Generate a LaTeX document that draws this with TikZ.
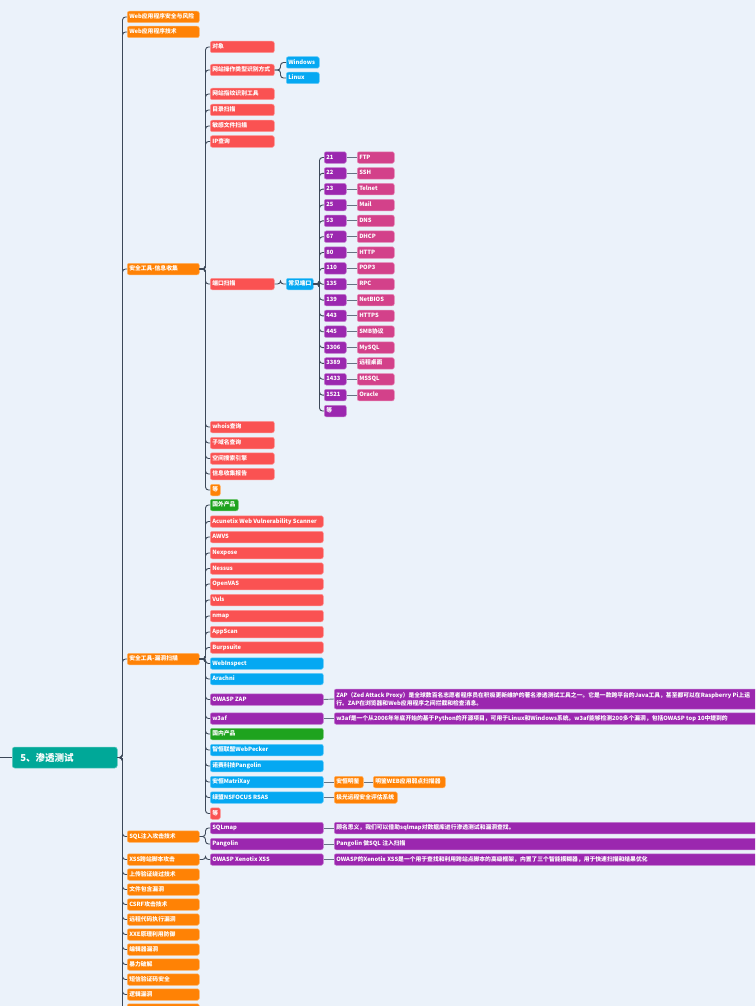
\documentclass[tikz,border=0pt]{standalone}
\usepackage{fontspec}
\setmainfont{Noto Sans CJK SC}
\definecolor{bg}{HTML}{EBF2FA}
\definecolor{cor}{HTML}{FF8205}
\definecolor{cred}{HTML}{FA5252}
\definecolor{cblu}{HTML}{05A8F2}
\definecolor{cpur}{HTML}{9B27AF}
\definecolor{cpnk}{HTML}{D3418A}
\definecolor{cgrn}{HTML}{1EA31E}
\definecolor{cteal}{HTML}{00A898}
\definecolor{cln}{HTML}{3C4858}
\definecolor{cln2}{HTML}{667384}
\tikzset{
  bx/.style={rectangle, rounded corners=2pt, inner xsep=2pt, inner ysep=0pt,
    minimum height=11.5pt, text=white, font=\fontsize{5.8}{7}\selectfont\bfseries,
    anchor=west, text height=4.4pt, text depth=1.3pt, line width=0.5pt},
  bxtwo/.style={rectangle, rounded corners=2pt, inner xsep=2pt, inner ysep=1pt,
    minimum height=20pt, text=white, font=\fontsize{5.8}{8.5}\selectfont\bfseries,
    anchor=west, line width=0.5pt, align=left},
  rootbox/.style={rectangle, rounded corners=2.5pt, inner xsep=8pt, inner ysep=0pt,
    minimum height=21pt, text=white, font=\fontsize{9.5}{11}\selectfont\bfseries,
    anchor=west, fill=cteal, draw=cteal!60!white, line width=0.5pt},
  conn/.style={draw=cln, line width=0.9pt, rounded corners=3pt},
  link/.style={draw=cln2, line width=0.9pt},
}
\newcommand\B[6]{\pgfmathsetmacro\tw{#4-#3-4}\pgfmathsetmacro\bw{#4-#3}%
  \node[bx, fill=#2, draw=#2!60!white, minimum width=\bw pt] (#1) at (#3,#5) {\makebox[\tw pt][l]{#6}};}
\newcommand\E[3]{\draw[conn] (#1.east) -- ++(#3,0) |- (#2.west);}
\newcommand\LK[2]{\draw[link] (#1.east) -- (#2.west);}
\begin{document}
\begin{tikzpicture}[x=1pt,y=-1pt]
\fill[bg] (0,0) rectangle (755,1006);
\useasboundingbox (0,0) rectangle (755,1006);
\clip (0,0) rectangle (755,1006);

% root
\node[rootbox, minimum width=105pt] (root) at (12,757.5) {\makebox[89pt][l]{5、渗透测试}};
\coordinate (rootin) at (-5,757.5);
\draw[conn] (rootin) -- (root.west);

% level 1
\B{a1}{cor}{127}{199}{17}{Web应用程序安全与风险}
\B{a2}{cor}{127}{199}{32}{Web应用程序技术}
\B{a3}{cor}{127}{199}{269}{安全工具-信息收集}
\B{a4}{cor}{127}{199}{659}{安全工具-漏洞扫描}
\B{a5}{cor}{127}{199}{836.5}{SQL注入攻击技术}
\B{a6}{cor}{127}{199}{859.5}{XSS跨站脚本攻击}
\B{a7}{cor}{127}{199}{874.5}{上传验证绕过技术}
\B{a8}{cor}{127}{199}{889.5}{文件包含漏洞}
\B{a9}{cor}{127}{199}{904.5}{CSRF攻击技术}
\B{a10}{cor}{127}{199}{919.5}{远程代码执行漏洞}
\B{a11}{cor}{127}{199}{934.5}{XXE原理利用防御}
\B{a12}{cor}{127}{199}{949.5}{编辑器漏洞}
\B{a13}{cor}{127}{199}{964.5}{暴力破解}
\B{a14}{cor}{127}{199}{979.5}{短信验证码安全}
\B{a15}{cor}{127}{199}{994.5}{逻辑漏洞}
\B{a16}{cor}{127}{199}{1009.5}{}
\foreach \n in {a1,a2,a3,a4,a5,a6,a7,a8,a9,a10,a11,a12,a13,a14,a15,a16}{\E{root}{\n}{5}}

% info collection
\B{b1}{cred}{210}{274}{47}{对象}
\B{b2}{cred}{210}{274}{70}{网站操作类型识别方式}
\B{b3}{cred}{210}{274}{94}{网站指纹识别工具}
\B{b4}{cred}{210}{274}{110}{目录扫描}
\B{b5}{cred}{210}{274}{126}{敏感文件扫描}
\B{b6}{cred}{210}{274}{141.5}{IP查询}
\B{b7}{cred}{210}{274}{284}{端口扫描}
\B{b8}{cred}{210}{274}{427}{whois查询}
\B{b9}{cred}{210}{274}{443}{子域名查询}
\B{b10}{cred}{210}{274}{458.5}{空间搜索引擎}
\B{b11}{cred}{210}{274}{474}{信息收集报告}
\B{b12}{cor}{210}{220}{490}{等}
\foreach \n in {b1,b2,b3,b4,b5,b6,b7,b8,b9,b10,b11,b12}{\E{a3}{\n}{6}}

\B{c1}{cblu}{286}{319}{62.5}{Windows}
\B{c2}{cblu}{286}{319}{78}{Linux}
\E{b2}{c1}{6}\E{b2}{c2}{6}

\B{d0}{cblu}{286}{313}{284}{常见端口}
\E{b7}{d0}{6}

\foreach \p/\s [count=\i] in {21/FTP,22/SSH,23/Telnet,25/Mail,53/DNS,67/DHCP,80/HTTP,110/POP3,135/RPC,139/NetBIOS,443/HTTPS,445/SMB协议,3306/MySQL,3389/远程桌面,1433/MSSQL,1521/Oracle}{
  \pgfmathsetmacro\yy{157.5+(\i-1)*15.84}
  \B{p\i}{cpur}{324}{346}{\yy}{\p}
  \B{s\i}{cpnk}{357}{394}{\yy}{\s}
  \E{d0}{p\i}{6}
  \LK{p\i}{s\i}
}
\B{p17}{cpur}{324}{346}{411}{等}
\E{d0}{p17}{6}

% vulnerability scanning
\B{e1}{cgrn}{210}{238}{505}{国外产品}
\B{e2}{cred}{210}{323}{521.5}{Acunetix Web Vulnerability Scanner}
\B{e3}{cred}{210}{323}{537}{AWVS}
\B{e4}{cred}{210}{323}{553}{Nexpose}
\B{e5}{cred}{210}{323}{568.5}{Nessus}
\B{e6}{cred}{210}{323}{584}{OpenVAS}
\B{e7}{cred}{210}{323}{600}{Vuls}
\B{e8}{cred}{210}{323}{616}{nmap}
\B{e9}{cred}{210}{323}{632}{AppScan}
\B{e10}{cred}{210}{323}{647.5}{Burpsuite}
\B{e11}{cblu}{210}{323}{663.5}{WebInspect}
\B{e12}{cblu}{210}{323}{679}{Arachni}
\B{e13}{cpur}{210}{323}{699.5}{OWASP ZAP}
\B{e14}{cpur}{210}{323}{718.5}{w3af}
\B{e15}{cgrn}{210}{323}{734}{国内产品}
\B{e16}{cblu}{210}{323}{750}{智恒联盟WebPecker}
\B{e17}{cblu}{210}{323}{766}{诺赛科技Pangolin}
\B{e18}{cblu}{210}{323}{782}{安恒MatriXay}
\B{e19}{cblu}{210}{323}{797.5}{绿盟NSFOCUS RSAS}
\B{e20}{cred}{210}{220}{813.5}{等}
\foreach \n in {e1,e2,e3,e4,e5,e6,e7,e8,e9,e10,e11,e12,e13,e14,e15,e16,e17,e18,e19,e20}{\E{a4}{\n}{6}}

\node[bxtwo, fill=cpur, draw=cpur!60!white, minimum width=428pt] (t1) at (334,699)
 {\makebox[424pt][l]{ZAP（Zed Attack Proxy）是全球数百名志愿者程序员在积极更新维护的著名渗透测试工具之一。它是一款跨平台的Java工具，甚至都可以在Raspberry Pi上运}\\
  \makebox[424pt][l]{行。ZAP在浏览器和Web应用程序之间拦截和检查消息。}};
\LK{e13}{t1}
\B{t2}{cpur}{334}{762}{718.5}{w3af是一个从2006年年底开始的基于Python的开源项目，可用于Linux和Windows系统。w3af能够检测200多个漏洞，包括OWASP top 10中提到的}
\LK{e14}{t2}

\B{f1}{cor}{334}{363}{782}{安恒明鉴}
\B{f2}{cor}{373}{445}{782}{明鉴WEB应用弱点扫描器}
\B{f3}{cor}{334}{397}{797.5}{极光远程安全评估系统}
\LK{e18}{f1}\LK{f1}{f2}\LK{e19}{f3}

% SQL / XSS
\B{g1}{cpur}{210}{323}{828}{SQLmap}
\B{g2}{cpur}{210}{323}{844}{Pangolin}
\E{a5}{g1}{6}\E{a5}{g2}{6}
\B{t3}{cpur}{334}{762}{828}{顾名思义，我们可以借助sqlmap对数据库进行渗透测试和漏洞查找。}
\B{t4}{cpur}{334}{762}{844}{Pangolin 做SQL 注入扫描}
\LK{g1}{t3}\LK{g2}{t4}
\B{h1}{cpur}{210}{323}{859.5}{OWASP Xenotix XSS}
\E{a6}{h1}{6}
\B{t5}{cpur}{334}{762}{859.5}{OWASP的Xenotix XSS是一个用于查找和利用跨站点脚本的高级框架，内置了三个智能模糊器，用于快速扫描和结果优化}
\LK{h1}{t5}
\end{tikzpicture}
\end{document}
